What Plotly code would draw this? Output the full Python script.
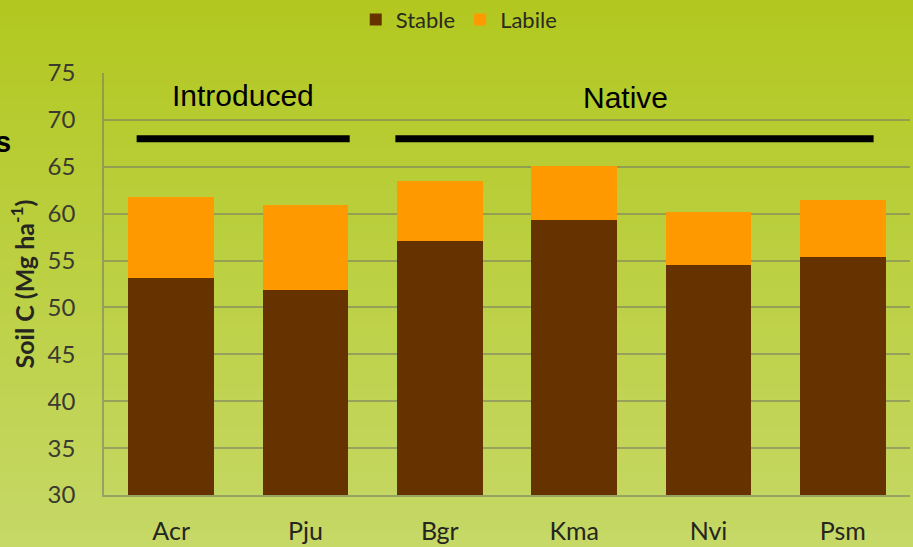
import plotly.graph_objects as go

# Soil carbon pools by species
species = ["Acr", "Pju", "Bgr", "Kma", "Nvi", "Psm"]
stable = [53.1, 51.9, 57.1, 59.3, 54.5, 55.4]
labile = [8.7, 9.0, 6.4, 5.8, 5.7, 6.1]
y_ticks = [30, 35, 40, 45, 50, 55, 60, 65, 70, 75]

W, H = 913, 547
M_L, M_R, M_T, M_B = 104, 3, 73, 52

fig = go.Figure()
fig.add_trace(go.Bar(name="Stable", x=species, y=stable, marker_color="#663300",
                     marker_line_width=0))
fig.add_trace(go.Bar(name="Labile", x=species, y=labile, marker_color="#FF9900",
                     marker_line_width=0))

# vertical green gradient behind the whole figure
top_rgb = (178, 200, 32)
bot_rgb = (198, 216, 102)
n_strips = 110
plot_h = H - M_T - M_B
y_top = 1 + M_T / plot_h
y_bot = -M_B / plot_h
x_left = -M_L / (W - M_L - M_R)
x_right = 1 + M_R / (W - M_L - M_R)
shapes = []
for i in range(n_strips):
    t = i / (n_strips - 1)
    c = tuple(round(a + (b - a) * t) for a, b in zip(top_rgb, bot_rgb))
    y1 = y_top - (y_top - y_bot) * i / n_strips
    y0 = y_top - (y_top - y_bot) * (i + 1) / n_strips - 0.002
    shapes.append(dict(type="rect", xref="paper", yref="paper", layer="below",
                       x0=x_left - 0.01, x1=x_right + 0.01, y0=y0, y1=y1,
                       line_width=0, fillcolor="rgb(%d,%d,%d)" % c))

# group bars
shapes.append(dict(type="line", xref="x", yref="y", x0=-0.257, x1=1.329, y0=68, y1=68,
                   line=dict(color="black", width=7)))
shapes.append(dict(type="line", xref="x", yref="y", x0=1.669, x1=5.229, y0=68, y1=68,
                   line=dict(color="black", width=7)))

annotations = [
    dict(text="Introduced", x=0.536, y=72.6, xref="x", yref="y", showarrow=False,
         font=dict(family="Liberation Sans, Arial", size=30, color="black")),
    dict(text="Native", x=3.38, y=72.35, xref="x", yref="y", showarrow=False,
         font=dict(family="Liberation Sans, Arial", size=30, color="black")),
    dict(text="<b>s</b>", x=(13 - M_L) / (W - M_L - M_R), y=1 + (M_T - 142) / plot_h,
         xref="paper", yref="paper", xanchor="right", yanchor="middle", showarrow=False,
         font=dict(family="Liberation Sans, Arial", size=29, color="black")),
]

grid_col = "rgba(115,120,100,0.55)"
fig.update_layout(
    width=W, height=H,
    margin=dict(l=M_L, r=M_R, t=M_T, b=M_B, autoexpand=False),
    barmode="stack", bargap=0.36,
    paper_bgcolor="rgb(186,206,60)", plot_bgcolor="rgba(0,0,0,0)",
    shapes=shapes, annotations=annotations,
    font=dict(family="Lato, Open Sans, sans-serif", color="#2a2a20"),
    legend=dict(orientation="h", xref="container", yref="container",
                x=0.503, y=0.964, xanchor="center", yanchor="middle",
                font=dict(size=22, color="#2a2a20"), bgcolor="rgba(0,0,0,0)",
                traceorder="normal"),
    xaxis=dict(showgrid=False, showline=True, linecolor=grid_col, linewidth=1.5,
               tickfont=dict(size=25, color="#262620"), ticks="",
               ticklabelstandoff=13, automargin=False),
    yaxis=dict(range=[30, 75], tickvals=y_ticks, showgrid=True, gridcolor=grid_col,
               gridwidth=1.5, showline=True, linecolor=grid_col, linewidth=1.5,
               zeroline=False, tickfont=dict(size=24, color="#3a3a30"), ticks="",
               ticklabelstandoff=22, automargin=False,
               title=dict(text="<b>Soil C (Mg ha<sup>-1</sup>)</b>", standoff=6,
                          font=dict(size=25, color="#262620"))),
)

fig.write_html("out.html")
